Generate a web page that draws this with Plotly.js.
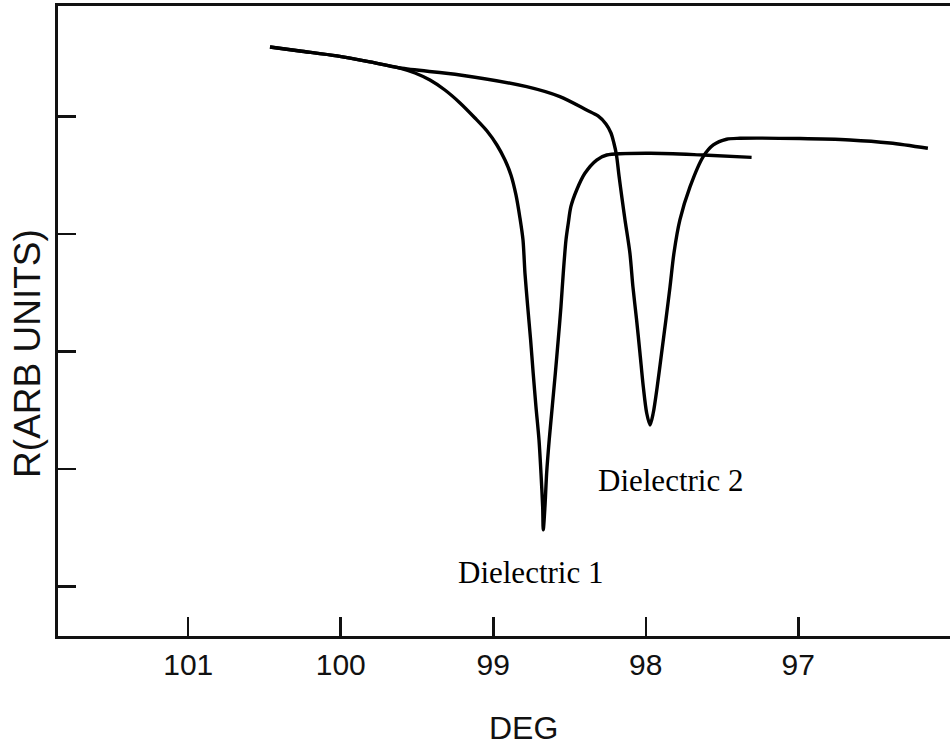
<!DOCTYPE html>
<html>
<head>
<meta charset="utf-8">
<script src="https://cdn.plot.ly/plotly-3.0.1.min.js"></script>
<style>html,body{margin:0;padding:0;background:#fff;}#chart{width:950px;height:747px;}</style>
</head>
<body>
<div id="chart"></div>
<script>
// Dielectric 1 (deep resonance near 98.67 deg)
const deg1 = [100.464,100.268,100.025,99.809,99.612,99.513,99.415,99.317,99.218,99.120,99.041,98.976,98.923,98.884,98.851,98.825,98.805,98.792,98.774,98.755,98.738,98.720,98.700,98.687,98.676,98.672,98.661,98.650,98.633,98.613,98.593,98.574,98.556,98.541,98.523,98.508,98.491,98.453,98.399,98.322,98.256,97.972,97.625,97.306];
const r1   = [5.593,5.559,5.517,5.466,5.414,5.372,5.312,5.227,5.117,4.989,4.878,4.759,4.631,4.504,4.334,4.138,3.951,3.667,3.383,3.100,2.816,2.532,2.249,1.965,1.681,1.483,1.681,1.965,2.249,2.532,2.816,3.100,3.383,3.667,3.951,4.093,4.234,4.376,4.518,4.631,4.674,4.689,4.674,4.654];
// Dielectric 2 (resonance near 97.97 deg)
const deg2 = [100.464,100.268,100.025,99.809,99.612,99.218,98.781,98.563,98.388,98.313,98.261,98.228,98.209,98.192,98.176,98.156,98.136,98.104,98.084,98.060,98.038,98.016,97.994,97.972,97.951,97.925,97.896,97.868,97.841,97.815,97.776,97.710,97.623,97.557,97.470,97.382,96.989,96.661,96.399,96.150];
const r2   = [5.593,5.559,5.517,5.466,5.414,5.355,5.255,5.170,5.057,5.006,4.938,4.861,4.776,4.674,4.504,4.308,4.121,3.840,3.551,3.270,2.989,2.700,2.478,2.376,2.478,2.700,2.989,3.270,3.551,3.840,4.121,4.402,4.660,4.759,4.808,4.816,4.814,4.802,4.776,4.731];
const xTickVals = [101,100,99,98,97];
const xTickText = ["101","100","99","98","97"];
const yTickVals = [1,2,3,4,5];
const labels = [
  {text:"Dielectric 1", x:98.753, y:1.117},
  {text:"Dielectric 2", x:97.835, y:1.90}
];

const lineStyle = {color:"#000", width:3.4, shape:"spline", smoothing:0.8};
const traces = [
  {x:deg1, y:r1, mode:"lines", line:lineStyle, hoverinfo:"skip", showlegend:false},
  {x:deg2, y:r2, mode:"lines", line:lineStyle, hoverinfo:"skip", showlegend:false}
];

const annotations = labels.map(l => ({
  text:l.text, x:l.x, y:l.y, xref:"x", yref:"y", showarrow:false,
  font:{family:"Liberation Serif, Times New Roman, serif", size:31, color:"#000"}
}));
annotations.push({
  text:"DEG", xref:"paper", yref:"paper", x:0.522, y:-0.146, showarrow:false,
  xanchor:"center", yanchor:"middle",
  font:{family:"Liberation Sans, Arial, sans-serif", size:32, color:"#111"}
});
annotations.push({
  text:"R(ARB UNITS)", xref:"paper", yref:"paper", x:-0.035, y:0.449, showarrow:false,
  xanchor:"center", yanchor:"middle", textangle:-90,
  font:{family:"Liberation Sans, Arial, sans-serif", size:37, color:"#111"}
});

const layout = {
  width:950, height:747,
  margin:{l:58, r:0, t:6, b:111},
  paper_bgcolor:"#fff", plot_bgcolor:"#fff",
  showlegend:false,
  xaxis:{
    range:[101.854, 96.005], autorange:false,
    tickvals:xTickVals, ticktext:xTickText,
    ticks:"inside", ticklen:19, tickwidth:2.5, tickcolor:"#111",
    showline:true, linecolor:"#111", linewidth:3, mirror:true,
    showgrid:false, zeroline:false,
    tickfont:{family:"Liberation Sans, Arial, sans-serif", size:30, color:"#111"}
  },
  yaxis:{
    range:[0.580, 5.942], autorange:false,
    tickvals:yTickVals, showticklabels:false,
    ticks:"inside", ticklen:18, tickwidth:2.5, tickcolor:"#111",
    showline:true, linecolor:"#111", linewidth:3, mirror:false,
    showgrid:false, zeroline:false
  },
  annotations:annotations
};

Plotly.newPlot("chart", traces, layout, {staticPlot:true, displayModeBar:false});
</script>
</body>
</html>
